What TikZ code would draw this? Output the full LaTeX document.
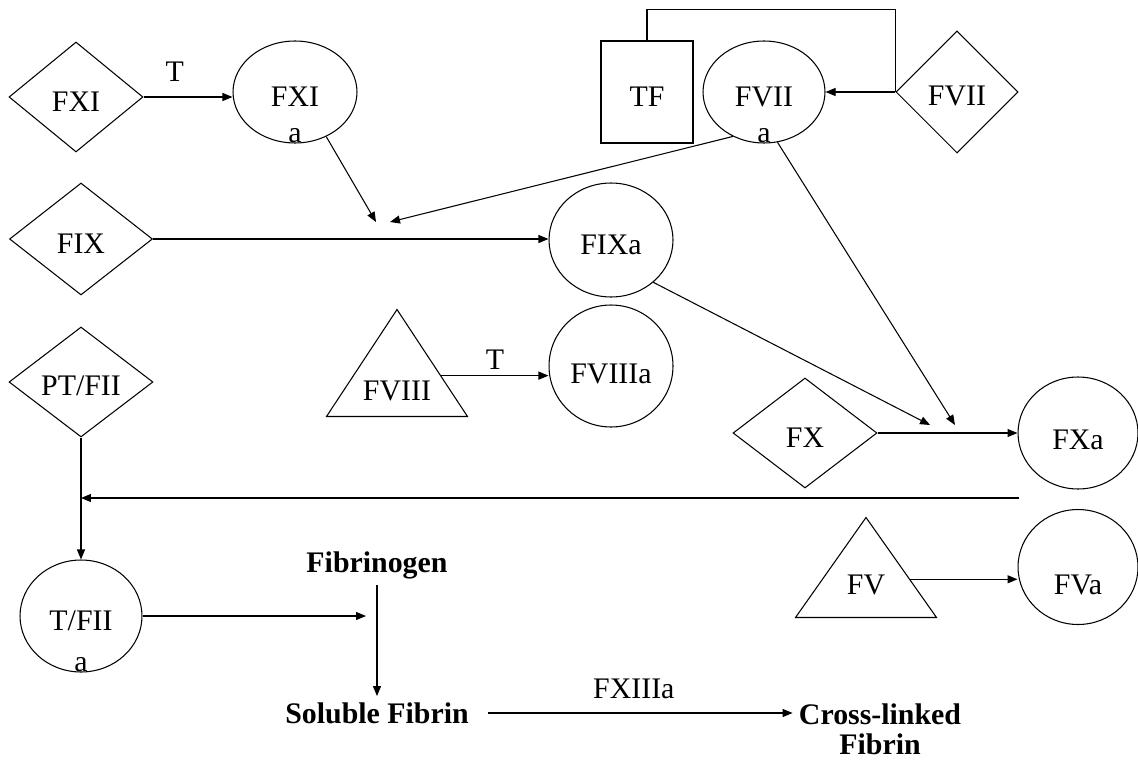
\documentclass[tikz,border=0pt]{standalone}
\usepackage{fontspec}
\setmainfont{Liberation Serif}
\usetikzlibrary{shapes.geometric,arrows.meta,calc}

\begin{document}
\begin{tikzpicture}[x=0.02cm,y=-0.02cm,line width=0.6pt,
    font=\fontsize{17}{17}\selectfont]

        \useasboundingbox (0,0) rectangle (1138,760);

        \begin{scope}[every node/.style={diamond,draw,inner sep=0pt,text height=16pt}]
          \node[minimum width=2.68cm,minimum height=2.2cm] (fxi)   at (76,97)   {FXI};
          \node[minimum width=2.44cm,minimum height=2.44cm] (fvii) at (957,92)  {FVII};
          \node[minimum width=2.86cm,minimum height=2.24cm] (fix)  at (81,239)  {FIX};
          \node[minimum width=2.88cm,minimum height=2.2cm] (ptfii) at (81,382)  {PT/FII};
          \node[minimum width=2.88cm,minimum height=2.2cm] (fx)    at (805,433) {FX};
        \end{scope}

        \begin{scope}[every node/.style={ellipse,draw,inner sep=0pt,text height=17pt},
                      every label/.style={draw=none,rectangle,anchor=south,inner sep=0pt,text height=}]
          \node[minimum width=2.48cm,minimum height=2.04cm,label=below:a] (fxia)  at (295,92)   {FXI};
          \node[minimum width=2.44cm,minimum height=2.04cm,label=below:a] (fviia) at (764,92)   {FVII};
          \node[minimum width=2.48cm,minimum height=2.28cm] (fixa)   at (611,240)  {FIXa};
          \node[minimum width=2.48cm,minimum height=2.44cm,text height=20pt] (fviiia) at (611,366)  {FVIIIa};
          \node[minimum width=2.4cm,minimum height=2.24cm,text height=19pt]  (fxa)    at (1078,433) {FXa};
          \node[minimum width=2.4cm,minimum height=2.3cm,text height=32pt]   (fva)    at (1078,567) {FVa};
          \node[minimum width=2.44cm,minimum height=2.24cm,label=below:a] (tfiia) at (81,616) {T/FII};
        \end{scope}

        \node[draw,minimum width=1.84cm,minimum height=2.04cm,text height=16pt] (tf) at (647,92) {TF};

        \begin{scope}[every node/.style={isosceles triangle,shape border rotate=90,draw,
                      isosceles triangle stretches,inner sep=0pt,text depth=3pt,
                      minimum width=2.82cm,minimum height=2cm}]
          \node[anchor=lower side] (fviii) at (397,417) {FVIII};
          \node[anchor=lower side] (fv)    at (866,618) {FV};
        \end{scope}

        \begin{scope}[every node/.style={font=\fontsize{17}{17}\selectfont\bfseries}]
          \node (fbg)   at (377,565) {Fibrinogen};
          \node (sol)   at (377,713) {Soluble Fibrin};
          \node[align=center] (cross) at (880,729) {Cross-linked\\Fibrin};
        \end{scope}

        \coordinate (jix1)  at (376,222);
        \coordinate (jix2)  at (390,222);
        \coordinate (jx1)   at (930,425);
        \coordinate (jx2)   at (955,425);
        \coordinate (fxlow) at (1019,498);
        \coordinate (tjoin) at (81,498);
        \coordinate (fgin)  at (366,616);
        \coordinate (fviiiout) at ($(fviii.apex)!0.62!(fviii.right corner)$);
        \coordinate (fvout)    at ($(fv.apex)!0.62!(fv.right corner)$);

        \draw (tf.north) -- ++(0,-31) -| (fvii.west);

        \begin{scope}[every edge/.style={draw,-{Triangle[length=2mm,width=1.6mm]}}]
          \path (fxi.east)  edge node[above=0.18cm,pos=0.35] {T} (fxi.east -| fxia.west);
          \path (fvii)      edge (fviia);
          \path (fix.east)  edge (fix.east -| fixa.west);
          \path (fxia.-55)  edge (jix1);
          \path (fviia.235) edge (jix2);
          \path (fixa.-45)  edge (jx1);
          \path (fviia.-75) edge (jx2);
          \path (fviiiout)  edge node[above] {T} (fviiiout -| fviiia.west);
          \path (fx)        edge (fxa);
          \path (fvout)     edge (fvout -| fva.west);
          \path (fxlow)     edge (tjoin);
          \path (ptfii)     edge (tfiia);
          \path (tfiia)     edge (fgin);
          \path (fbg)       edge (sol);
          \path (sol.east)  edge[shorten <=0.25cm] node[above=0.15cm] {FXIIIa} (sol.east -| cross.west);
        \end{scope}

      \end{tikzpicture}
\end{document}
